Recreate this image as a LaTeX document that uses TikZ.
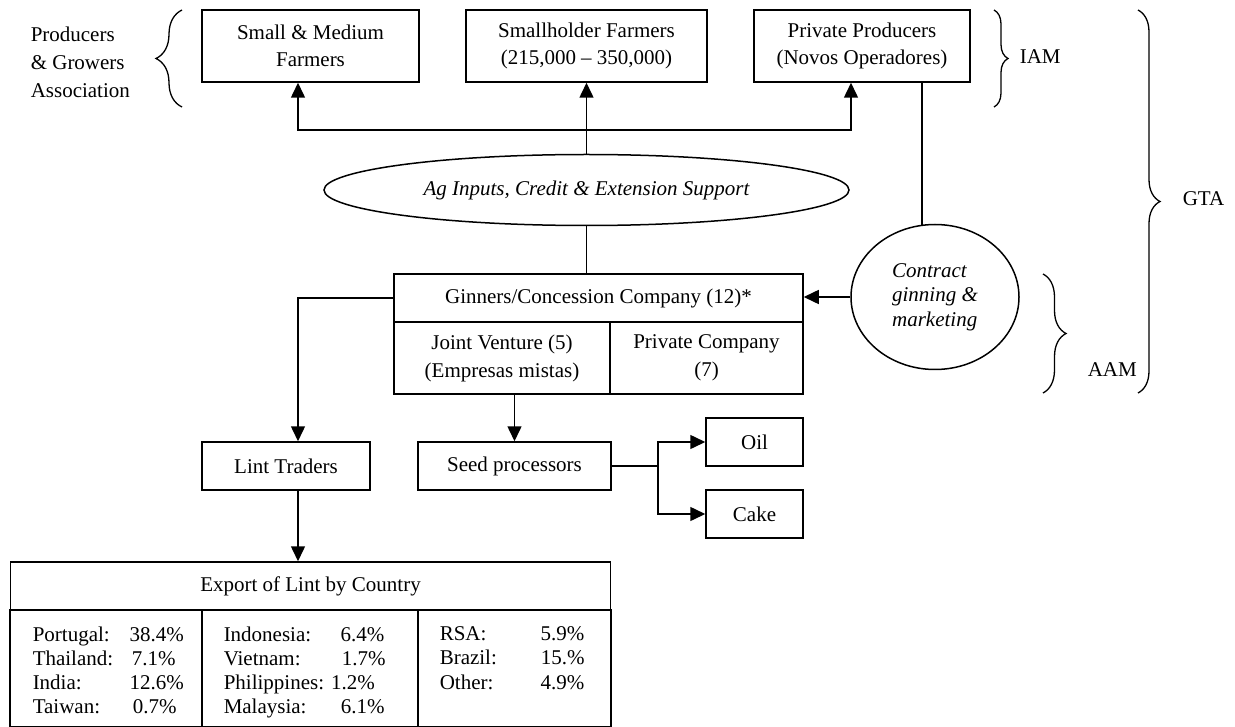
\documentclass[tikz,border=0pt]{standalone}
\usepackage{fontspec}
\setmainfont{Liberation Serif}
\usetikzlibrary{arrows.meta,shapes.geometric,decorations.pathreplacing}
\begin{document}
\begin{tikzpicture}[x=1pt,y=-1pt,line width=1.5pt,
  box/.style={draw,rectangle,inner sep=0pt,align=center,font=\fontsize{21}{27}\selectfont},
  arr/.style={-{Triangle[length=15pt,width=14pt]}},
  brc/.style={decorate,decoration={brace,amplitude=#1}},
  brc/.default=13pt,
  txt/.style={inner sep=0pt,font=\fontsize{21}{28}\selectfont},
  tab/.style={inner sep=0pt,anchor=north west,align=left,font=\fontsize{21}{24.3}\selectfont}]
\useasboundingbox (0,0) rectangle (1235,727);
% top boxes
\node[box,minimum width=217pt,minimum height=72pt] (b1) at (310.5,46) {Small \& Medium\\Farmers};
\node[box,minimum width=241pt,minimum height=72pt] (b2) at (586.5,46) {Smallholder Farmers\\(215,000 -- 350,000)};
\node[box,minimum width=216pt,minimum height=72pt] (b3) at (862,46) {Private Producers\\(Novos Operadores)};
% side labels and braces
\node[txt,anchor=west,align=left] (prod) at (30,62) {Producers\\\& Growers\\Association};
\draw[brc=26pt,line width=1.3pt] (182,107) -- (182,10);
\draw[brc=14pt,line width=1.3pt] (994,10) -- (994,107);
\node[txt,anchor=west] (iam) at (1019,57) {IAM};
\draw[brc=22pt,line width=1.3pt] (1138,10) -- (1138,393);
\node[txt,anchor=west] (gta) at (1182,199) {GTA};
\draw[brc=23pt,line width=1.3pt] (1043,274) -- (1043,393);
\node[txt,anchor=west] (aam) at (1087,370) {AAM};
% ellipse
\node[draw,ellipse,inner sep=0pt,minimum width=525pt,minimum height=71pt,font=\fontsize{21}{27}\selectfont\itshape] (ag) at (586.5,190) {Ag Inputs, Credit \& Extension Support};
% ginner box
\node[box,minimum width=409pt,minimum height=48pt] (gintop) at (598.5,298) {Ginners/Concession Company (12)*};
\node[box,minimum width=216pt,minimum height=72pt,font=\fontsize{21}{28}\selectfont] (jv) at (502,358) {Joint Venture (5)\\(Empresas mistas)};
\node[box,minimum width=193pt,minimum height=72pt,font=\fontsize{21}{28}\selectfont] (pc) at (706.5,358) {Private Company\\(7)};
% circle
\node[draw,ellipse,inner sep=0pt,minimum width=168pt,minimum height=145pt,align=left,font=\fontsize{21}{24.5}\selectfont\itshape] (cg) at (935,297) {Contract\\ginning \&\\marketing};
% lower boxes
\node[box,minimum width=168pt,minimum height=48pt] (lint) at (286,466) {Lint Traders};
\node[box,minimum width=193pt,minimum height=48pt] (seed) at (514.5,466) {Seed processors};
\node[box,minimum width=97pt,minimum height=48pt] (oil) at (754.5,442) {Oil};
\node[box,minimum width=97pt,minimum height=48pt] (cake) at (754.5,514) {Cake};
% export table
\node[box,minimum width=600pt,minimum height=48pt] (exp) at (310.5,586) {Export of Lint by Country};
\node[draw,inner sep=0pt,minimum width=192pt,minimum height=117pt] (c1) at (106,668.5) {};
\node[draw,inner sep=0pt,minimum width=216pt,minimum height=117pt] (c2) at (310,668.5) {};
\node[draw,inner sep=0pt,minimum width=193pt,minimum height=117pt] (c3) at (514.5,668.5) {};
\node[tab] (t1) at (32,625.7) {\makebox[97pt][l]{Portugal:}38.4\%\\\makebox[99pt][l]{Thailand:}7.1\%\\\makebox[97pt][l]{India:}12.6\%\\\makebox[100pt][l]{Taiwan:}0.7\%};
\node[tab] (t2) at (223,625.7) {\makebox[117pt][l]{Indonesia:}6.4\%\\\makebox[118pt][l]{Vietnam:}1.7\%\\Philippines: 1.2\%\\\makebox[117pt][l]{Malaysia:}6.1\%};
\node[tab] (t3) at (439,625.7) {\makebox[101pt][l]{RSA:}5.9\%\\\makebox[101pt][l]{Brazil:}15.\%\\\makebox[101pt][l]{Other:}4.9\%};
% connectors
\coordinate (j) at (586.5,130);
\draw[arr] (ag.north) -- (b2.south);
\draw[arr] (j) -| ([xshift=-12.5pt]b1.south);
\draw[arr] (j) -| ([xshift=-11pt]b3.south);
\draw (ag.south) -- (ag.south |- gintop.north);
\draw ([xshift=60pt]b3.south) -- ([xshift=-13pt,yshift=-1.5pt]cg.north);
\draw[arr] (cg.west) -- (cg.west -| gintop.east);
\draw[arr] (gintop.west) -| ([xshift=12pt]lint.north);
\draw[arr] (seed.north |- jv.south) -- (seed.north);
\coordinate (br) at (658,466);
\draw (seed.east) -- (br);
\draw[arr] (br) |- (oil.west);
\draw[arr] (br) |- (cake.west);
\draw[arr] ([xshift=12pt]lint.south) -- ([xshift=12pt]lint.south |- exp.north);
\end{tikzpicture}
\end{document}
